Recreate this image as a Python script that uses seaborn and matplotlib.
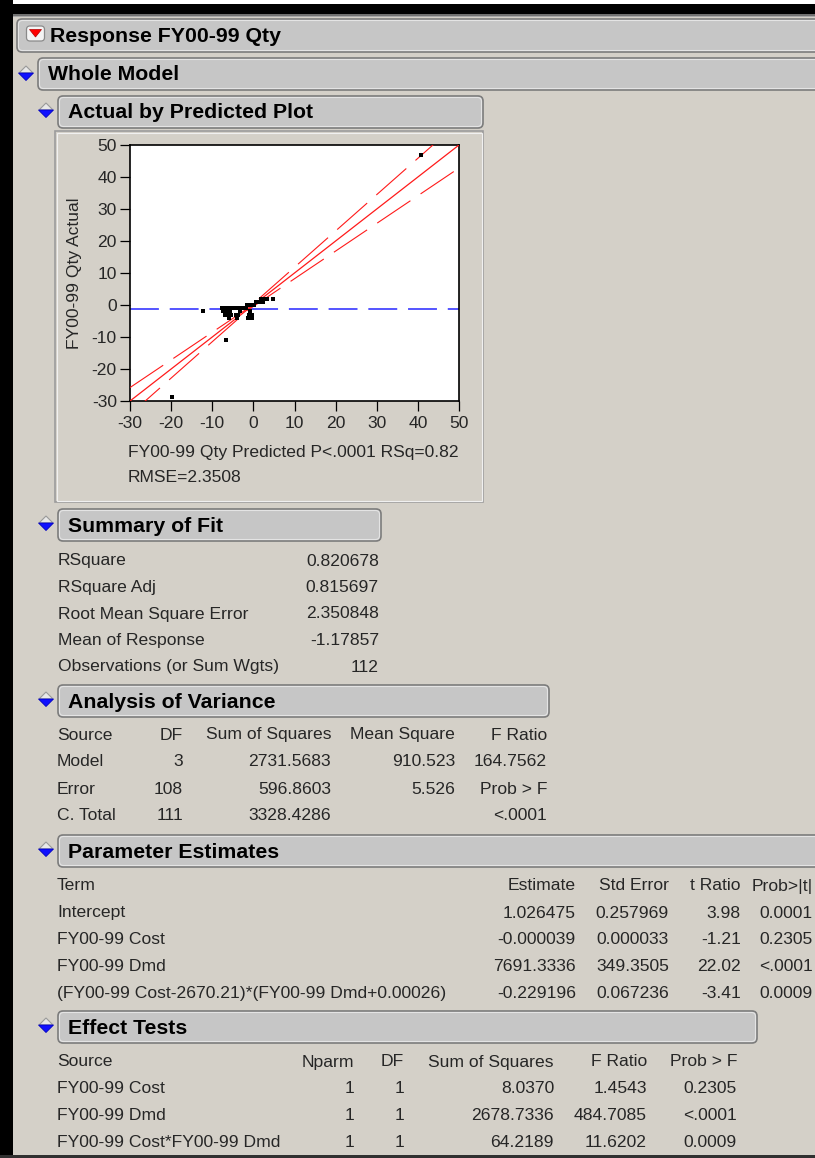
import matplotlib
matplotlib.use("Agg")
import matplotlib.pyplot as plt
from matplotlib.patches import Rectangle, FancyBboxPatch, Polygon
import seaborn as sns
import pandas as pd

# ---------------- data ----------------
pred_out = [40.8, -19.8, -12.3, -6.6, 4.7]
act_out = [47.0, -28.7, -2.0, -10.8, 2.0]

pred_m1 = [-7.6, -7.2, -6.8, -6.4, -6.0, -5.6, -5.2, -4.6, -4.0, -3.4, -2.8, -2.2, -1.7]
pred_m2 = [-7.3, -6.9, -6.5, -6.1, -5.7, -3.2, -0.9]
pred_m3 = [-7.0, -6.6, -6.2, -5.4, -4.2, -3.7, -1.1, -0.4]
pred_m4 = [-5.9, -3.9, -1.2, -0.7, -0.3]
pred_0 = [-1.5, -1.0, -0.6, -0.2, 0.2]
pred_p1 = [0.6, 1.0, 1.4, 1.9, 2.4]
pred_p2 = [1.8, 2.3, 2.8, 3.3]

fit_x = [-30, 50]
fit_y = [-30, 50]
band_x = [-30, -1.18, 50]
band_upper = [-25.8, -0.9, 57.2]
band_lower = [-34.2, -1.46, 42.8]
mean_response = -1.17857

ticks = [-30, -20, -10, 0, 10, 20, 30, 40, 50]

fit_labels = ["RSquare", "RSquare Adj", "Root Mean Square Error", "Mean of Response",
              "Observations (or Sum Wgts)"]
fit_values = ["0.820678", "0.815697", "2.350848", "-1.17857", "112"]

anova_cols = ["Source", "DF", "Sum of Squares", "Mean Square", "F Ratio"]
anova_source = ["Model", "Error", "C. Total"]
anova_df = ["3", "108", "111"]
anova_ss = ["2731.5683", "596.8603", "3328.4286"]
anova_ms = ["910.523", "5.526", ""]
anova_f = ["164.7562", "Prob > F", "<.0001"]

param_cols = ["Term", "Estimate", "Std Error", "t Ratio", "Prob>|t|"]
param_terms = ["Intercept", "FY00-99 Cost", "FY00-99 Dmd",
               "(FY00-99 Cost-2670.21)*(FY00-99 Dmd+0.00026)"]
param_est = ["1.026475", "-0.000039", "7691.3336", "-0.229196"]
param_se = ["0.257969", "0.000033", "349.3505", "0.067236"]
param_t = ["3.98", "-1.21", "22.02", "-3.41"]
param_p = ["0.0001", "0.2305", "<.0001", "0.0009"]

effect_cols = ["Source", "Nparm", "DF", "Sum of Squares", "F Ratio", "Prob > F"]
effect_source = ["FY00-99 Cost", "FY00-99 Dmd", "FY00-99 Cost*FY00-99 Dmd"]
effect_nparm = ["1", "1", "1"]
effect_df = ["1", "1", "1"]
effect_ss = ["8.0370", "2678.7336", "64.2189"]
effect_f = ["1.4543", "484.7085", "11.6202"]
effect_p = ["0.2305", "<.0001", "0.0009"]

# ---------------- style ----------------
sns.set_style("white")
plt.rcParams['font.family'] = ['Liberation Sans', 'DejaVu Sans']
plt.rcParams['axes.unicode_minus'] = False

W, H = 815, 1158
BG = "#D4D0C8"
BAR = "#C6C6C6"
FS = 12.6
HFS = 15.3

fig = plt.figure(figsize=(W / 100, H / 100), dpi=100)
fig.patch.set_facecolor(BG)
bg = fig.add_axes([0, 0, 1, 1])
bg.set_xlim(0, W)
bg.set_ylim(H, 0)
bg.axis("off")
bg.set_facecolor(BG)

# outer frame
bg.add_patch(Rectangle((0, 0), W, 4, facecolor="white", edgecolor="none"))
bg.add_patch(Rectangle((0, 4), W, 9.5, facecolor="black", edgecolor="none"))
bg.add_patch(Rectangle((0, 0), 13, H, facecolor="black", edgecolor="none"))
bg.add_patch(Rectangle((13, 13.5), W, 2, facecolor="#707070", edgecolor="none"))
bg.add_patch(Rectangle((13, 15.5), W, 1.5, facecolor="#a8a8a8", edgecolor="none"))
bg.add_patch(Rectangle((0, H - 3), W, 3, facecolor="#303030", edgecolor="none"))


def header(x0, y0, x1, y1, label, text_x=None):
    bg.add_patch(FancyBboxPatch((x0, y0), x1 - x0, y1 - y0,
                                boxstyle="round,pad=0,rounding_size=5",
                                facecolor=BAR, edgecolor="#7c7c7c", lw=1.2))
    bg.add_patch(FancyBboxPatch((x0 + 1.5, y0 + 1.5), x1 - x0 - 3, y1 - y0 - 3,
                                boxstyle="round,pad=0,rounding_size=4",
                                facecolor="none", edgecolor="#e4e4e4", lw=0.8))
    tx = x0 + 10 if text_x is None else text_x
    bg.text(tx, (y0 + y1) / 2 + 1, label, fontsize=HFS, fontweight="bold",
            va="center", ha="left", color="black")


def disclosure(cx, cy):
    bg.add_patch(Polygon([(cx - 7, cy), (cx, cy - 7), (cx + 7, cy)], closed=True,
                         facecolor="#e8e8e8", edgecolor="#9a9a9a", lw=0.8))
    bg.add_patch(Polygon([(cx - 7.5, cy), (cx + 7.5, cy), (cx, cy + 7.5)], closed=True,
                         facecolor="#1010ff", edgecolor="#0000c0", lw=0.6))


header(17, 19, W + 20, 52, "Response FY00-99 Qty", text_x=50)
bg.add_patch(FancyBboxPatch((26.5, 26), 18, 15, boxstyle="round,pad=0,rounding_size=3.5",
                            facecolor="#f4f4f4", edgecolor="#8a8a8a", lw=0.9))
bg.add_patch(Polygon([(29.5, 29.5), (41.5, 29.5), (35.5, 37)], closed=True,
                     facecolor="#ff0000", edgecolor="#b00000", lw=0.5))

header(38, 58, W + 20, 90, "Whole Model")
disclosure(26, 73)

header(58, 96, 483, 128, "Actual by Predicted Plot")
disclosure(46, 110)

# plot panel
bg.add_patch(Rectangle((55, 131), 428, 371, facecolor=BG, edgecolor="#9c9c9c", lw=1.2))
bg.add_patch(Rectangle((56.5, 132.5), 425, 368, facecolor="none", edgecolor="#f0f0f0", lw=0.8))

bg.text(75, 273, "FY00-99 Qty Actual", rotation=90, fontsize=FS, ha="center", va="center")
bg.text(128, 452, "FY00-99 Qty Predicted P<.0001 RSq=0.82", fontsize=FS,
        ha="left", va="center")
bg.text(128, 478, "RMSE=2.3508", fontsize=FS, ha="left", va="center")

# summary of fit
header(58, 509, 381, 541, "Summary of Fit")
disclosure(46, 523)
for i, (lab, val) in enumerate(zip(fit_labels, fit_values)):
    y = 561 + i * 26.5
    bg.text(58, y, lab, fontsize=FS, ha="left", va="center")
    bg.text(379, y, val, fontsize=FS, ha="right", va="center")

# analysis of variance
header(58, 685, 549, 717, "Analysis of Variance")
disclosure(46, 699)
anova_x = [(57, "left"), (183, "right"), (331, "right"), (455, "right"), (547, "right")]
anova_rows = [anova_cols] + [list(r) for r in zip(anova_source, anova_df, anova_ss,
                                                 anova_ms, anova_f)]
for i, row in enumerate(anova_rows):
    y = 735 + i * 27
    for (x, ha), txt in zip(anova_x, row):
        bg.text(x, y, txt, fontsize=FS, ha=ha, va="center")

# parameter estimates
header(58, 835, W + 20, 867, "Parameter Estimates")
disclosure(46, 849)
param_x = [(57, "left"), (576, "right"), (669, "right"), (741, "right"), (813, "right")]
param_rows = [list(r) for r in zip(param_terms, param_est, param_se, param_t, param_p)]
hy = 886
for (x, ha), txt in zip(param_x[:4], param_cols[:4]):
    bg.text(x, hy, txt, fontsize=FS, ha=ha, va="center")
bg.text(813, hy, param_cols[4], fontsize=FS, ha="right", va="center")
for i, row in enumerate(param_rows):
    y = 913 + i * 26.8
    for (x, ha), txt in zip(param_x, row):
        bg.text(x, y, txt, fontsize=FS, ha=ha, va="center")

# effect tests
header(58, 1011, 757, 1043, "Effect Tests")
disclosure(46, 1025)
eff_x = [(57, "left"), (354, "right"), (404, "right"), (554, "right"), (647, "right"),
         (737, "right")]
eff_rows = [effect_cols] + [list(r) for r in zip(effect_source, effect_nparm, effect_df,
                                                effect_ss, effect_f, effect_p)]
for i, row in enumerate(eff_rows):
    y = 1062 + i * 26.8
    for (x, ha), txt in zip(eff_x, row):
        bg.text(x, y, txt, fontsize=FS, ha=ha, va="center")

# ---------------- the plot ----------------
ax = fig.add_axes([130 / W, 1 - 401 / H, 329 / W, 256 / H])
ax.set_facecolor("white")

groups = [(pred_out, act_out), (pred_m1, [-1] * len(pred_m1)), (pred_m2, [-2] * len(pred_m2)),
          (pred_m3, [-3] * len(pred_m3)), (pred_m4, [-4] * len(pred_m4)),
          (pred_0, [0] * len(pred_0)), (pred_p1, [1] * len(pred_p1)),
          (pred_p2, [2] * len(pred_p2))]
px, py = [], []
for gx, gy in groups:
    px += list(gx)
    py += list(gy)
df = pd.DataFrame({"Predicted": px, "Actual": py})

ax.axhline(mean_response, color="#4646ff", lw=1.3, linestyle=(0, (16, 6)), zorder=2)
ax.plot(fit_x, fit_y, color="#ff1a1a", lw=0.9, zorder=3)
ax.plot(band_x, band_upper, color="#ff1a1a", lw=0.8, linestyle=(0, (36, 11)), zorder=3)
ax.plot(band_x, band_lower, color="#ff1a1a", lw=0.8, linestyle=(0, (36, 11)), zorder=3)
sns.scatterplot(data=df, x="Predicted", y="Actual", ax=ax, marker="s", s=7,
                color="black", linewidth=0, zorder=4, legend=False)

ax.set_xlim(-30, 50)
ax.set_ylim(-30, 50)
ax.set_xticks(ticks)
ax.set_yticks(ticks)
ax.set_xticklabels([str(t) for t in ticks])
ax.set_yticklabels([str(t) for t in ticks])
ax.set_xlabel("")
ax.set_ylabel("")
ax.tick_params(axis="both", direction="out", length=7.5, width=0.9, color="black",
               labelsize=FS, pad=2, bottom=True, left=True)
ax.tick_params(axis="x", pad=3.5)
for s in ax.spines.values():
    s.set_visible(True)
    s.set_color("black")
    s.set_linewidth(1.2)

fig.savefig("out.png", dpi=100, facecolor=BG)
